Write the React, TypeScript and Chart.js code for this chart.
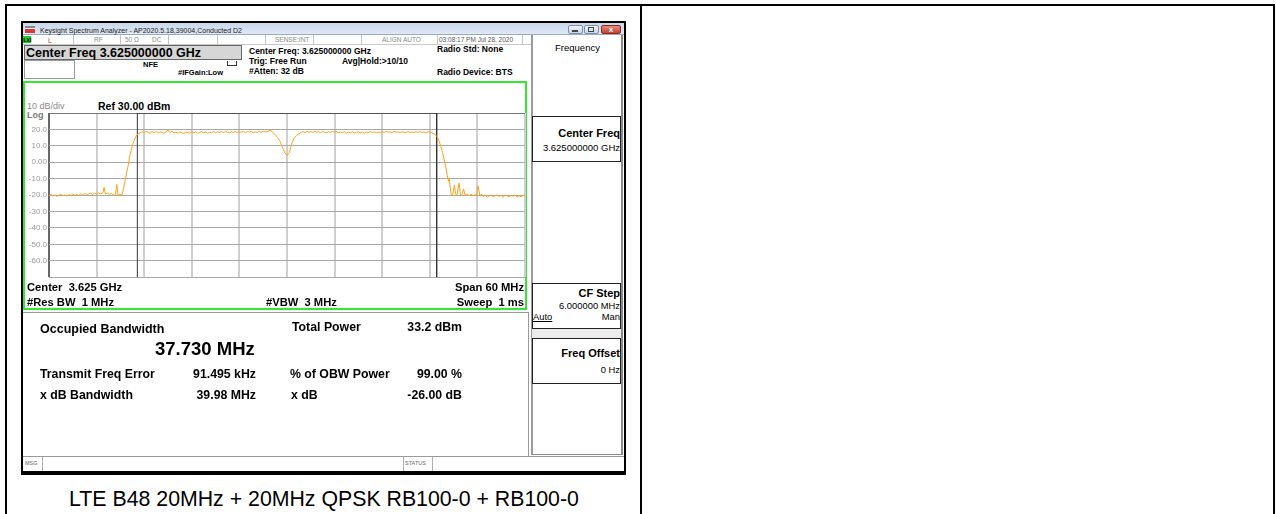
import React, { useEffect, useRef } from "react";
import { Chart, registerables } from "chart.js";

Chart.register(...registerables);

// ---- data (frequency offset from 3.625 GHz, MHz / level, dBm) ----
const traceFreqMHz = [
  // left noise floor
  -30, -29.75, -29.5, -29.25, -29, -28.75, -28.5, -28.25, -28, -27.75,
  -27.5, -27.25, -27, -26.75, -26.5, -26.25, -26, -25.75, -25.5, -25.25,
  -25, -24.75, -24.5, -24.25, -24, -23.75, -23.5,
  -23.2, -23.05, -22.9, -22.65, -22.4, -22.15, -21.9, -21.65, -21.45, -21.3,
  -21.05, -20.8,
  // rising edge
  -20.6, -20.4, -20.2, -20.0, -19.8, -19.6, -19.4, -19.2, -19.0, -18.8,
  // lower carrier
  -18.5, -18.25, -18, -17.75, -17.5, -17.25, -17, -16.75, -16.5, -16.25,
  -16, -15.75, -15.5, -15.25, -15, -14.75, -14.5, -14.25, -14, -13.75,
  -13.5, -13.25, -13, -12.75, -12.5, -12.25, -12, -11.75, -11.5, -11.25,
  -11, -10.75, -10.5, -10.25, -10, -9.75, -9.5, -9.25, -9, -8.75,
  -8.5, -8.25, -8, -7.75, -7.5, -7.25, -7, -6.75, -6.5, -6.25,
  -6, -5.75, -5.5, -5.25, -5, -4.75, -4.5, -4.25, -4, -3.75,
  -3.5, -3.25, -3, -2.75, -2.5,
  // gap between carriers
  -2.25, -2.05, -1.8, -1.5, -1.2, -0.9, -0.6, -0.3, 0, 0.3,
  0.6, 0.9, 1.2, 1.5, 1.75,
  // upper carrier
  2, 2.25, 2.5, 2.75, 3, 3.25, 3.5, 3.75, 4, 4.25,
  4.5, 4.75, 5, 5.25, 5.5, 5.75, 6, 6.25, 6.5, 6.75,
  7, 7.25, 7.5, 7.75, 8, 8.25, 8.5, 8.75, 9, 9.25,
  9.5, 9.75, 10, 10.25, 10.5, 10.75, 11, 11.25, 11.5, 11.75,
  12, 12.25, 12.5, 12.75, 13, 13.25, 13.5, 13.75, 14, 14.25,
  14.5, 14.75, 15, 15.25, 15.5, 15.75, 16, 16.25, 16.5, 16.75,
  17, 17.25, 17.5, 17.75, 18,
  // falling edge and spurs
  18.25, 18.5, 18.7, 19.0, 19.2, 19.4, 19.6, 19.8, 20.0, 20.2,
  20.35, 20.45, 20.55, 20.7, 20.85, 21.0, 21.1, 21.25, 21.4, 21.55,
  21.7, 21.85, 22.0, 22.25, 22.45, 22.7, 22.95, 23.2, 23.45, 23.7,
  23.9, 24.1, 24.3, 24.55,
  // right noise floor
  24.75, 25, 25.25, 25.5, 25.75, 26, 26.25, 26.5, 26.75, 27,
  27.25, 27.5, 27.75, 28, 28.25, 28.5, 28.75, 29, 29.25, 29.5,
  29.75, 30,
];
const traceLevelDbm = [
  // left noise floor
  -20.3, -19.6, -20.5, -19.9, -20.8, -20.0, -19.5, -20.4, -19.8, -20.6,
  -19.7, -20.2, -19.4, -20.1, -19.6, -20.3, -19.2, -19.9, -19.0, -19.7,
  -19.3, -18.8, -19.6, -18.9, -19.5, -18.7, -19.3,
  -18.6, -15.2, -19.3, -18.8, -19.5, -19.0, -19.8, -20.2, -13.5, -20.2,
  -19.6, -19.8,
  // rising edge
  -16.0, -11.0, -6.0, -1.5, 4.0, 8.0, 11.5, 14.2, 16.0, 17.2,
  // lower carrier
  17.9, 18.6, 17.8, 18.9, 18.1, 17.6, 18.7, 18.0, 18.8, 17.7,
  18.5, 18.1, 17.6, 18.6, 19.7, 18.0, 18.9, 17.9, 18.4, 17.6,
  18.5, 18.0, 17.5, 18.4, 18.1, 17.7, 18.6, 18.0, 18.5, 17.6,
  18.2, 18.7, 17.9, 18.4, 17.7, 18.3, 18.0, 18.8, 17.9, 18.5,
  18.1, 18.7, 18.0, 18.9, 18.2, 17.8, 18.6, 18.1, 18.8, 17.9,
  18.6, 18.2, 18.9, 18.0, 18.7, 18.3, 18.8, 17.9, 18.5, 18.1,
  18.9, 18.2, 19.0, 18.4, 18.7,
  // gap between carriers
  19.2, 19.6, 18.1, 16.8, 15.2, 13.0, 9.5, 6.0, 4.2, 5.8,
  11.5, 14.8, 16.2, 17.3, 18.1,
  // upper carrier
  18.6, 18.0, 18.9, 18.2, 18.7, 18.1, 19.0, 18.3, 18.6, 17.9,
  18.7, 18.2, 18.0, 18.6, 18.2, 18.8, 18.3, 18.7, 17.9, 18.5,
  18.1, 18.6, 17.8, 18.4, 18.0, 18.6, 17.8, 18.3, 18.5, 17.9,
  18.4, 17.7, 18.3, 18.0, 18.7, 18.1, 18.5, 17.8, 18.4, 18.0,
  18.6, 18.1, 18.8, 18.2, 18.6, 18.0, 18.9, 18.3, 18.5, 17.9,
  18.6, 18.2, 18.0, 18.7, 18.1, 18.5, 18.0, 18.6, 18.2, 18.7,
  18.1, 18.5, 17.9, 18.4, 18.6,
  // falling edge and spurs
  18.0, 17.4, 16.8, 15.0, 12.5, 9.5, 6.0, 2.0, -2.5, -8.0,
  -11.5, -9.5, -14.5, -19.5, -20.5, -17.0, -13.8, -19.2, -20.3, -16.5,
  -12.6, -19.5, -20.4, -16.2, -20.0, -19.2, -20.6, -19.4, -20.3, -19.7,
  -20.4, -14.4, -20.2, -19.5,
  // right noise floor
  -20.9, -20.1, -21.3, -20.4, -19.8, -21.2, -20.3, -19.9, -20.8, -20.2,
  -21.4, -19.8, -20.5, -21.0, -20.1, -20.7, -19.9, -21.3, -20.4, -21.0,
  -20.2, -19.9,
];
const obwMHz = 37.73;
const spanMHz = 60;
const refLevelDbm = 30;
const dbPerDiv = 10;
const yTickValues = [20, 10, 0, -10, -20, -30, -40, -50, -60];
const yTickLabels = ["20.0", "10.0", "0.00", "-10.0", "-20.0", "-30.0", "-40.0", "-50.0", "-60.0"];

const FONT = '"Liberation Sans", Arial, sans-serif';

function T(props: any) {
  const { x, y, s, b, c, r, m, u, children } = props;
  const style: any = {
    position: "absolute",
    top: y - 0.8465 * s,
    fontSize: s,
    lineHeight: s + "px",
    fontWeight: b ? "bold" : "normal",
    color: c || "#000",
    whiteSpace: "pre",
    textDecoration: u ? "underline" : "none",
  };
  if (r) style.right = 1276 - x;
  else style.left = x;
  if (m) style.transform = "translateX(-50%)";
  return <div style={style}>{children}</div>;
}

function Bx(props: any) {
  const { l, t, w, h, bg, style, children } = props;
  return (
    <div
      style={{
        position: "absolute",
        left: l,
        top: t,
        width: w,
        height: h,
        background: bg,
        boxSizing: "border-box",
        ...(style || {}),
      }}
    >
      {children}
    </div>
  );
}

function SpectrumChart() {
  const ref = useRef<HTMLCanvasElement | null>(null);
  useEffect(() => {
    if (!ref.current) return;
    const half = obwMHz / 2;
    const bottom = refLevelDbm - dbPerDiv * 10;
    const chart = new Chart(ref.current, {
      type: "line",
      data: {
        datasets: [
          {
            data: traceFreqMHz.map((f, i) => ({ x: f, y: traceLevelDbm[i] })),
            borderColor: "#fca21c",
            borderWidth: 1,
            pointRadius: 0,
            tension: 0,
            order: 1,
          },
          {
            data: [
              { x: -half, y: bottom },
              { x: -half, y: refLevelDbm },
              { x: half, y: refLevelDbm },
              { x: half, y: bottom },
            ],
            borderColor: "#333333",
            borderWidth: 1,
            pointRadius: 0,
            tension: 0,
            order: 2,
          },
        ],
      },
      options: {
        animation: false,
        responsive: false,
        maintainAspectRatio: false,
        devicePixelRatio: 1,
        layout: { padding: { top: 13, right: 1, bottom: 4, left: 0 } },
        plugins: { legend: { display: false }, tooltip: { enabled: false } },
        font: { family: FONT },
        scales: {
          x: {
            type: "linear",
            min: -spanMHz / 2,
            max: spanMHz / 2,
            ticks: { display: false, stepSize: spanMHz / 10 },
            grid: {
              drawTicks: false,
              color: (ctx: any) => (ctx.tick && ctx.tick.value === -spanMHz / 2 ? "#666" : "#cfcfcf"),
              lineWidth: 2,
            },
            border: { display: false },
            afterFit: (s: any) => {
              s.height = 0;
            },
          },
          y: {
            type: "linear",
            min: bottom,
            max: refLevelDbm,
            ticks: {
              stepSize: dbPerDiv,
              color: "#9a9a9a",
              padding: 2,
              font: { size: 8, family: FONT },
              callback: (v: any) => {
                const i = yTickValues.indexOf(Number(v));
                return i >= 0 ? yTickLabels[i] : "";
              },
            },
            grid: {
              drawTicks: false,
              color: (ctx: any) => (ctx.tick && ctx.tick.value === refLevelDbm ? "#777" : "#a8a8a8"),
              lineWidth: 1,
            },
            border: { display: false },
            afterFit: (s: any) => {
              s.width = 23;
            },
          },
        },
      } as any,
    });
    return () => chart.destroy();
  }, []);
  return (
    <canvas
      ref={ref}
      width={500}
      height={184}
      style={{ position: "absolute", left: 26, top: 100, width: 500, height: 184 }}
    />
  );
}

export default function App() {
  const sep = (x: number) => <Bx key={x} l={x} t={35} w={1} h={9} bg="#c4c4c4" />;
  return (
    <div
      style={{
        position: "fixed",
        left: 0,
        top: 0,
        width: 1276,
        height: 514,
        overflow: "hidden",
        background: "#fff",
        fontFamily: FONT,
      }}
    >
      {/* page table lines */}
      <Bx l={5} t={4} w={1270} h={2} bg="#000" />
      <Bx l={5} t={4} w={2} h={510} bg="#000" />
      <Bx l={640} t={4} w={2} h={510} bg="#000" />
      <Bx l={1273} t={4} w={2} h={510} bg="#000" />

      {/* screenshot frame */}
      <Bx l={21} t={21} w={605} h={454} bg="#fff" style={{ border: "2px solid #000", borderBottomWidth: 4 }} />

      {/* title bar */}
      <Bx l={23} t={23} w={601} h={12} bg="linear-gradient(#c8d7ea,#dfe8f4)" style={{ borderBottom: "1px solid #9aaac0" }} />
      <Bx l={25} t={26} w={10} h={7} bg="linear-gradient(#888 0 30%, #fff 30% 45%, #d33 45% 100%)" />
      <T x={40} y={32.5} s={7} c="#1a1a1a">Keysight Spectrum Analyzer - AP2020.5.18,39004,Conducted D2</T>
      <Bx l={568} t={25} w={15} h={9} bg="linear-gradient(#eef3f9,#c9d6e6)" style={{ border: "1px solid #7d8fa8", borderRadius: 2 }} />
      <Bx l={572} t={30} w={6} h={2} bg="#444" />
      <Bx l={584} t={25} w={15} h={9} bg="linear-gradient(#eef3f9,#c9d6e6)" style={{ border: "1px solid #7d8fa8", borderRadius: 2 }} />
      <Bx l={588} t={27} w={6} h={5} style={{ border: "1px solid #444" }} />
      <Bx l={601} t={25} w={20} h={9} bg="linear-gradient(#e98a7e,#c8402f)" style={{ border: "1px solid #8b2b20", borderRadius: 2 }} />
      <T x={611} y={32.5} s={8} b c="#fff" m>x</T>

      {/* status row */}
      <Bx l={23} t={35} w={508} h={10} bg="#fff" style={{ borderBottom: "1px solid #c8c8c8" }} />
      <Bx l={23} t={36} w={8} h={7} bg="#22cc22" />
      <T x={23.5} y={42} s={5} b c="#000">LXI</T>
      <T x={48} y={42.5} s={7} c="#b24848">L</T>
      {[73, 120, 168, 217, 265, 313, 361, 437, 522].map(sep)}
      <T x={94} y={42.5} s={6.5} c="#8a8a8a">RF</T>
      <T x={125} y={42.5} s={6.5} c="#8a8a8a">50 Ω</T>
      <T x={152} y={42.5} s={6.5} c="#8a8a8a">DC</T>
      <T x={275} y={42.5} s={6.5} c="#8a8a8a">SENSE:INT</T>
      <T x={382} y={42.5} s={6.5} c="#8a8a8a">ALIGN AUTO</T>
      <T x={439} y={42.5} s={6.5} c="#555">03:08:17 PM Jul 28, 2020</T>

      {/* center freq box and settings */}
      <Bx l={24} t={45} w={218} h={15} bg="#d6d6d6" style={{ border: "1px solid #666" }} />
      <T x={26} y={57.3} s={12.5} b>Center Freq 3.625000000 GHz</T>
      <Bx l={24} t={60} w={51} h={19} style={{ border: "1px solid #9a9a9a" }} />
      <T x={143} y={67} s={7.5} b>NFE</T>
      <T x={178} y={75} s={7.5} b>#IFGain:Low</T>
      <Bx l={227} t={61} w={10} h={5} style={{ border: "1px solid #333", borderTop: "none" }} />
      <T x={249} y={54} s={8.5} b>Center Freq: 3.625000000 GHz</T>
      <T x={249} y={64.5} s={8.5} b>Trig: Free Run</T>
      <T x={249} y={74} s={8.5} b>#Atten: 32 dB</T>
      <T x={342} y={64.5} s={8.5} b>Avg|Hold:&gt;10/10</T>
      <T x={437} y={52.5} s={8.5} b>Radio Std: None</T>
      <T x={437} y={75} s={8.5} b>Radio Device: BTS</T>

      {/* graph frame */}
      <Bx l={23} t={81} w={504} h={229} style={{ border: "2px solid #33e833" }} />
      <T x={27} y={109.5} s={9} c="#8a8a8a">10 dB/div</T>
      <T x={98} y={110} s={10.5} b>Ref 30.00 dBm</T>
      <T x={27} y={118.5} s={9} b c="#7a7a7a">Log</T>
      <SpectrumChart />
      <T x={27} y={291.7} s={11.2} b>{"Center  3.625 GHz"}</T>
      <T x={27} y={306} s={11.2} b>{"#Res BW  1 MHz"}</T>
      <T x={266} y={306} s={11.2} b>{"#VBW  3 MHz"}</T>
      <T x={524} y={291.7} s={11.2} b r>Span 60 MHz</T>
      <T x={524} y={306} s={11.2} b r>{"Sweep  1 ms"}</T>

      {/* results */}
      <Bx l={23} t={312} w={506} h={1} bg="#9a9a9a" />
      <Bx l={528} t={312} w={1} h={144} bg="#9a9a9a" />
      <T x={40} y={333.5} s={12.5} b>Occupied Bandwidth</T>
      <T x={155} y={355.5} s={18.5} b>37.730 MHz</T>
      <T x={292} y={331.5} s={12.3} b>Total Power</T>
      <T x={462} y={331.5} s={12.3} b r>33.2 dBm</T>
      <T x={40} y={378.7} s={12.3} b>Transmit Freq Error</T>
      <T x={256} y={378.7} s={12.3} b r>91.495 kHz</T>
      <T x={290} y={378.7} s={12.3} b>% of OBW Power</T>
      <T x={462} y={378.7} s={12.3} b r>99.00 %</T>
      <T x={40} y={399.3} s={12.3} b>x dB Bandwidth</T>
      <T x={256} y={399.3} s={12.3} b r>39.98 MHz</T>
      <T x={291} y={399.3} s={12.3} b>x dB</T>
      <T x={462} y={399.3} s={12.3} b r>-26.00 dB</T>

      {/* softkey panel */}
      <Bx l={531} t={35} w={92} h={420} bg="#fff" style={{ borderLeft: "2px solid #9a9a9a", borderRight: "2px solid #8a8a8a", borderBottom: "1px solid #8a8a8a" }} />
      <T x={577.5} y={51.5} s={9.5} m>Frequency</T>
      <Bx l={532} t={116} w={89} h={46} style={{ border: "1px solid #222" }} />
      <T x={620} y={137} s={11} b r>Center Freq</T>
      <T x={620} y={151} s={9.5} r>3.625000000 GHz</T>
      <Bx l={532} t={283} w={89} h={46} style={{ border: "1px solid #222" }} />
      <T x={620} y={297.5} s={11} b r>CF Step</T>
      <T x={620} y={308.5} s={9.4} r>6.000000 MHz</T>
      <T x={533} y={320} s={9.4} u>Auto</T>
      <T x={620} y={320} s={9.4} r>Man</T>
      <Bx l={532} t={329} w={89} h={9} bg="#ececec" />
      <Bx l={532} t={338} w={89} h={46} style={{ border: "1px solid #222" }} />
      <T x={620} y={357.5} s={11} b r>Freq Offset</T>
      <T x={620} y={372.5} s={9.4} r>0 Hz</T>

      {/* message bar */}
      <Bx l={23} t={456} w={601} h={15} bg="#fff" style={{ borderTop: "1px solid #9a9a9a" }} />
      <Bx l={42} t={457} w={1} h={14} bg="#b0b0b0" />
      <Bx l={403} t={457} w={1} h={14} bg="#b0b0b0" />
      <Bx l={432} t={457} w={1} h={14} bg="#b0b0b0" />
      <T x={25} y={465.5} s={5.5} c="#666">MSG</T>
      <T x={405} y={465.5} s={5.5} c="#666">STATUS</T>

      {/* caption */}
      <T x={324} y={507} s={21.3} m>LTE B48 20MHz + 20MHz QPSK RB100-0 + RB100-0</T>
    </div>
  );
}
